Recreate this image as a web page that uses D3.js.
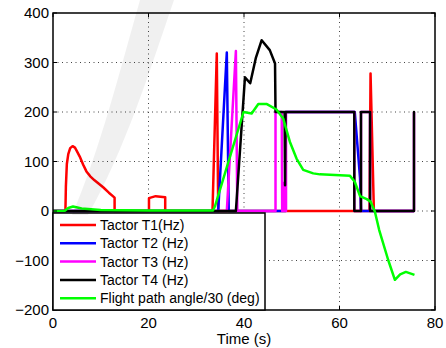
<!DOCTYPE html>
<html>
<head>
<meta charset="utf-8">
<script src="https://cdn.jsdelivr.net/npm/d3@7.9.0/dist/d3.min.js"></script>
<style>
  body { margin: 0; background: #fff; }
  svg { display: block; font-family: "Liberation Sans", Arial, Helvetica, sans-serif; }
</style>
</head>
<body>
<svg id="chart" width="446" height="348"></svg>
<script>
// ---- data (time in s, value) ----
const xTicks = [0, 20, 40, 60, 80];
const yTicks = [-200, -100, 0, 100, 200, 300, 400];

const tactorT1 = [
  [0, 0], [2.6, 0], [2.7, 50], [2.9, 95], [3.2, 115], [3.6, 127], [4.1, 131],
  [4.6, 128], [5.0, 121], [5.6, 110], [6.3, 94], [7.0, 80], [7.8, 70],
  [8.7, 62], [9.6, 55], [10.5, 48], [11.7, 37], [12.9, 27], [12.9, 0],
  [20.1, 0], [20.1, 26], [21.5, 30], [23.5, 28], [23.5, 0], [33.4, 0],
  [34.3, 318], [34.6, 0], [66.3, 0], [66.5, 278], [67.2, 0], [75.6, 0]
];
const tactorT2 = [
  [0, 0], [34.6, 0], [36.4, 320], [36.8, 0], [48.7, 0], [48.7, 200],
  [63.2, 200], [64.3, 67], [64.5, 0], [75.6, 0]
];
const tactorT3 = [
  [0, 0], [36.4, 0], [38.3, 323], [38.6, 0], [46.6, 0], [46.6, 200],
  [47.9, 200], [48.0, 0], [48.2, 57], [48.4, 0], [48.6, 57], [48.8, 0],
  [48.8, 200], [63.1, 200], [63.1, 0], [64.5, 0], [64.5, 200], [66.4, 200],
  [66.4, 0], [75.6, 0], [75.6, 200]
];
const tactorT4 = [
  [0, 0], [38.3, 0], [40.2, 270], [41.3, 258], [42.5, 310], [43.7, 345],
  [45.4, 325], [46.5, 298], [46.6, 200], [48.5, 200], [48.6, 52], [48.7, 200],
  [63.1, 200], [63.1, 0], [64.5, 0], [64.5, 200], [66.4, 200], [66.4, 0],
  [75.6, 0], [75.6, 200], [75.6, 127]
];
const flightPath = [
  [0, 0], [2.4, 0], [3.2, 6], [4.2, 9], [6, 5], [10, 2], [20, 1], [33.5, 1],
  [33.9, 9], [39.9, 200], [41.6, 197], [43, 216], [44.8, 216], [46.8, 205],
  [48.2, 187], [49.6, 140], [51, 106], [52.4, 83], [54.5, 76], [55.9, 74],
  [62.2, 71], [63.2, 59], [64.3, 30], [65.7, 24], [66.5, 19], [67.4, -1],
  [68.3, -38], [70.2, -99], [71.6, -139], [72.7, -128], [73.9, -123], [75.7, -129]
];

const series = [
  { name: "Tactor T1(Hz)", color: "#ff0000", values: tactorT1 },
  { name: "Tactor T2 (Hz)", color: "#0000ff", values: tactorT2 },
  { name: "Tactor T3 (Hz)", color: "#ff00ff", values: tactorT3 },
  { name: "Tactor T4 (Hz)", color: "#000000", values: tactorT4 },
  { name: "Flight path angle/30 (deg)", color: "#00ff00", values: flightPath }
];

// ---- layout ----
const svg = d3.select("#chart");
const plot = { left: 53, right: 435, top: 13, bottom: 310 };

const x = d3.scaleLinear().domain([0, 80]).range([plot.left, plot.right]);
const y = d3.scaleLinear().domain([-200, 400]).range([plot.bottom, plot.top]);

// grid (dotted)
const grid = svg.append("g").attr("stroke", "#444").attr("stroke-width", 1)
  .attr("stroke-dasharray", "1,3.5");
xTicks.slice(1, -1).forEach(t => {
  grid.append("line").attr("x1", x(t)).attr("x2", x(t))
    .attr("y1", plot.top).attr("y2", plot.bottom);
});
yTicks.slice(1, -1).forEach(t => {
  grid.append("line").attr("x1", plot.left).attr("x2", plot.right)
    .attr("y1", y(t)).attr("y2", y(t));
});

// lines
const line = d3.line().x(d => x(d[0])).y(d => y(d[1]));
svg.append("g").selectAll("path")
  .data(series)
  .join("path")
  .attr("d", d => line(d.values))
  .attr("fill", "none")
  .attr("stroke", d => d.color)
  .attr("stroke-width", 2.5)
  .attr("stroke-linejoin", "round");

// axes box + inward ticks
const axes = svg.append("g").attr("stroke", "#000");
axes.append("rect")
  .attr("x", plot.left).attr("y", plot.top)
  .attr("width", plot.right - plot.left).attr("height", plot.bottom - plot.top)
  .attr("fill", "none").attr("stroke-width", 1.5);
xTicks.forEach(t => {
  axes.append("line").attr("x1", x(t)).attr("x2", x(t)).attr("y1", plot.bottom).attr("y2", plot.bottom - 4);
  axes.append("line").attr("x1", x(t)).attr("x2", x(t)).attr("y1", plot.top).attr("y2", plot.top + 4);
});
yTicks.forEach(t => {
  axes.append("line").attr("x1", plot.left).attr("x2", plot.left + 4).attr("y1", y(t)).attr("y2", y(t));
  axes.append("line").attr("x1", plot.right).attr("x2", plot.right - 4).attr("y1", y(t)).attr("y2", y(t));
});

// tick labels
svg.append("g").selectAll("text")
  .data(xTicks)
  .join("text")
  .attr("x", d => x(d))
  .attr("y", 328)
  .attr("text-anchor", "middle")
  .attr("font-size", 15)
  .text(d => d);

svg.append("g").selectAll("text")
  .data(yTicks)
  .join("text")
  .attr("x", 49)
  .attr("y", d => y(d) + 5)
  .attr("text-anchor", "end")
  .attr("font-size", 15)
  .text(d => d < 0 ? "\u2212" + Math.abs(d) : d);

svg.append("text")
  .attr("x", x(40)).attr("y", 344)
  .attr("text-anchor", "middle")
  .attr("font-size", 15)
  .text("Time (s)");

// legend
const legend = svg.append("g");
legend.append("rect")
  .attr("x", plot.left).attr("y", 213)
  .attr("width", 212).attr("height", plot.bottom - 213)
  .attr("fill", "#fff").attr("stroke", "#000").attr("stroke-width", 1.5);
series.forEach((s, i) => {
  const ly = 225 + i * 18.3;
  legend.append("line")
    .attr("x1", 60).attr("x2", 96).attr("y1", ly).attr("y2", ly)
    .attr("stroke", s.color).attr("stroke-width", 2.5);
  legend.append("text")
    .attr("x", 100).attr("y", ly + 5)
    .attr("font-size", 14)
    .text(s.name);
});

// faint watermark slash
svg.append("path")
  .attr("d", "M140,0 L174,0 C150,70 125,150 88,215 L72,215 C100,150 120,70 140,0 Z")
  .attr("fill", "#000")
  .attr("opacity", 0.06)
  .attr("pointer-events", "none");
</script>
</body>
</html>
